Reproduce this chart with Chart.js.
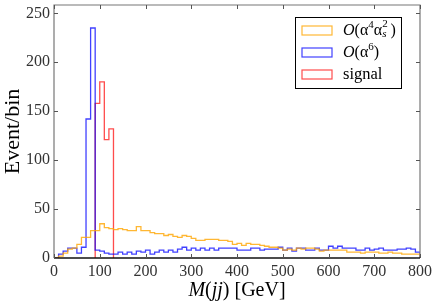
<!DOCTYPE html>
<html>
<head>
<meta charset="utf-8">
<script src="https://cdn.jsdelivr.net/npm/chart.js@4.4.1/dist/chart.umd.min.js"></script>
<style>
    body { margin: 0; background: #fff; }
    #wrap { width: 436px; height: 306px; }
</style>
</head>
<body>
<div id="wrap"><canvas id="mjj_Chart" width="436" height="306"></canvas></div>
<script>
// histogram binning (GeV)
var binWidth = 10;
var xTicks = [0, 100, 200, 300, 400, 500, 600, 700, 800];
var yTicks = [0, 50, 100, 150, 200, 250];

// O(alpha^4 alpha_s^2) background, one value per 10 GeV bin from 0 to 800
var orangeValues = [0, 2, 5, 9, 10, 14, 21, 21, 28, 28,
    35, 31, 30, 29, 30, 29, 28, 28, 32, 28,
    28, 26, 25, 25, 23, 24, 22, 21, 23, 22,
    20, 18, 18, 19, 19, 19, 18, 18, 17, 14,
    15, 13, 15, 14, 14, 13, 12, 11, 11, 10,
    8, 9, 8, 10, 9, 10, 10, 9, 7, 8,
    8, 8, 8, 8, 6, 6, 6, 5, 6, 6,
    6, 5, 5, 6, 5, 5, 4, 4, 4, 4];

// O(alpha^6) background
var blueValues = [0, 4, 7, 10, 10, 5, 11, 142, 235, 8,
    7, 5, 4, 4, 6, 4, 6, 4, 7, 6,
    8, 4, 6, 8, 6, 8, 6, 9, 11, 8,
    10, 8, 10, 8, 10, 8, 10, 10, 10, 10,
    8, 8, 8, 10, 10, 8, 9, 9, 9, 11,
    8, 10, 7, 10, 10, 8, 8, 10, 8, 8,
    12, 10, 12, 10, 10, 10, 8, 8, 10, 8,
    9, 10, 8, 8, 8, 9, 9, 10, 9, 6];

// signal only fills 90-130 GeV
var signalStart = 90;
var signalValues = [158, 180, 121, 132];

var legendLabels = ["orange", "blue", "signal"];

function stepPoints(start, values) {
    // outline of a step histogram: up from zero, across every bin, down again
    var pts = [{ x: start, y: 0 }];
    for (var i = 0; i < values.length; i++) {
        pts.push({ x: start + i * binWidth, y: values[i] });
    }
    var end = start + values.length * binWidth;
    pts.push({ x: end, y: values[values.length - 1] });
    pts.push({ x: end, y: 0 });
    return pts;
}

var orangeColor = "rgba(255,165,0,0.8)";
var blueColor = "rgba(0,0,255,0.75)";
var redColor = "rgba(255,0,0,0.7)";
var serif = "'Liberation Serif', 'DejaVu Serif', serif";

// draws text pieces one after another, returns the end x
function drawPieces(ctx, pieces, x, y) {
    for (var i = 0; i < pieces.length; i++) {
        var p = pieces[i];
        ctx.font = (p.italic ? "italic " : "") + p.size + "px " + serif;
        ctx.fillText(p.t, x, y + (p.dy || 0));
        if (!p.noAdvance) {
            x += ctx.measureText(p.t).width;
        }
    }
    return x;
}

function piecesWidth(ctx, pieces) {
    var w = 0;
    for (var i = 0; i < pieces.length; i++) {
        var p = pieces[i];
        ctx.font = (p.italic ? "italic " : "") + p.size + "px " + serif;
        if (!p.noAdvance) w += ctx.measureText(p.t).width;
    }
    return w;
}

var decorPlugin = {
    id: "decor",
    afterDraw: function (chart) {
        var ctx = chart.ctx;
        var area = chart.chartArea;
        var xs = chart.scales.x;
        var ys = chart.scales.y;

        ctx.save();

        // frame
        ctx.strokeStyle = "#777";
        ctx.lineWidth = 1.2;
        ctx.beginPath();
        ctx.moveTo(area.left, area.bottom);
        ctx.lineTo(area.left, area.top);
        ctx.lineTo(area.right, area.top);
        ctx.lineTo(area.right, area.bottom);
        ctx.stroke();
        ctx.strokeStyle = "#111";
        ctx.lineWidth = 1.5;
        ctx.beginPath();
        ctx.moveTo(area.left, area.bottom);
        ctx.lineTo(area.right, area.bottom);
        ctx.stroke();

        // inward ticks on all four sides
        ctx.strokeStyle = "#555";
        ctx.lineWidth = 1;
        ctx.beginPath();
        for (var i = 0; i < xTicks.length; i++) {
            var px = Math.round(xs.getPixelForValue(xTicks[i])) + 0.5;
            ctx.moveTo(px, area.bottom);
            ctx.lineTo(px, area.bottom - 4);
            ctx.moveTo(px, area.top);
            ctx.lineTo(px, area.top + 4);
        }
        for (var j = 0; j < yTicks.length; j++) {
            var py = Math.round(ys.getPixelForValue(yTicks[j])) + 0.5;
            ctx.moveTo(area.left, py);
            ctx.lineTo(area.left + 4, py);
            ctx.moveTo(area.right, py);
            ctx.lineTo(area.right - 4, py);
        }
        ctx.stroke();

        // legend box
        var lx = 295, ly = 17, lw = 106, lh = 71;
        ctx.fillStyle = "#fff";
        ctx.fillRect(lx, ly, lw, lh);
        ctx.strokeStyle = "#000";
        ctx.lineWidth = 1;
        ctx.strokeRect(lx + 0.5, ly + 0.5, lw, lh);

        var colors = [orangeColor, blueColor, redColor];
        var rows = [30.5, 52.5, 74.5];
        for (var k = 0; k < 3; k++) {
            ctx.strokeStyle = colors[k];
            ctx.lineWidth = 1.2;
            ctx.strokeRect(302, rows[k] - 4.5, 30, 9);
        }

        ctx.fillStyle = "#000";
        ctx.textBaseline = "middle";
        ctx.textAlign = "left";
        drawPieces(ctx, [
            { t: "O", size: 16, italic: true },
            { t: "(α", size: 16 },
            { t: "4", size: 11, dy: -5 },
            { t: "α", size: 16 },
            { t: "2", size: 11, dy: -6, noAdvance: true },
            { t: "s", size: 11, italic: true, dy: 4 },
            { t: " )", size: 16 }
        ], 343, rows[0]);
        drawPieces(ctx, [
            { t: "O", size: 16, italic: true },
            { t: "(α", size: 16 },
            { t: "6", size: 11, dy: -5 },
            { t: ")", size: 16 }
        ], 343, rows[1]);
        drawPieces(ctx, [{ t: legendLabels[2], size: 16.5 }], 343, rows[2]);

        // x axis title with italic symbols
        var title = [
            { t: "M", size: 20, italic: true },
            { t: "(", size: 20 },
            { t: "jj", size: 20, italic: true },
            { t: ") [GeV]", size: 20 }
        ];
        var tw = piecesWidth(ctx, title);
        drawPieces(ctx, title, (area.left + area.right) / 2 - tw / 2, 291);

        ctx.restore();
    }
};

var canvasM = document.getElementById("mjj_Chart");
var ctxM = canvasM.getContext("2d");

var mjj_Chart = new Chart(ctxM, {
    type: "line",
    data: {
        datasets: [{
            data: stepPoints(0, orangeValues),
            borderColor: orangeColor,
            borderWidth: 1.3,
            stepped: "before",
            pointRadius: 0,
            fill: false
        }, {
            data: stepPoints(0, blueValues),
            borderColor: blueColor,
            borderWidth: 1.3,
            stepped: "before",
            pointRadius: 0,
            fill: false
        }, {
            data: stepPoints(signalStart, signalValues),
            borderColor: redColor,
            borderWidth: 1.3,
            stepped: "before",
            pointRadius: 0,
            fill: false
        }]
    },
    options: {
        responsive: false,
        animation: false,
        devicePixelRatio: 1,
        layout: { padding: { top: 5, right: 16, left: 0, bottom: 0 } },
        plugins: {
            legend: { display: false },
            tooltip: { enabled: false }
        },
        scales: {
            x: {
                type: "linear",
                min: 0,
                max: 800,
                grid: { display: false, drawTicks: false },
                border: { display: false },
                ticks: {
                    stepSize: 100,
                    padding: 4,
                    color: "#333",
                    maxRotation: 0,
                    font: { family: serif, size: 16 }
                },
                afterFit: function (scale) {
                    scale.height = 48;
                    scale.paddingLeft = 0;
                    scale.paddingRight = 0;
                }
            },
            y: {
                min: 0,
                max: 258.5,
                grid: { display: false, drawTicks: false },
                border: { display: false },
                ticks: {
                    stepSize: 50,
                    padding: 4,
                    color: "#333",
                    font: { family: serif, size: 16 }
                },
                afterBuildTicks: function (scale) {
                    scale.ticks = yTicks.map(function (v) { return { value: v }; });
                },
                title: {
                    display: true,
                    text: "Event/bin",
                    color: "#000",
                    padding: { top: 0, bottom: 0 },
                    font: { family: serif, size: 22 }
                },
                afterFit: function (scale) {
                    scale.width = 54;
                    scale.paddingTop = 0;
                    scale.paddingBottom = 0;
                }
            }
        }
    },
    plugins: [decorPlugin]
});
</script>
</body>
</html>
